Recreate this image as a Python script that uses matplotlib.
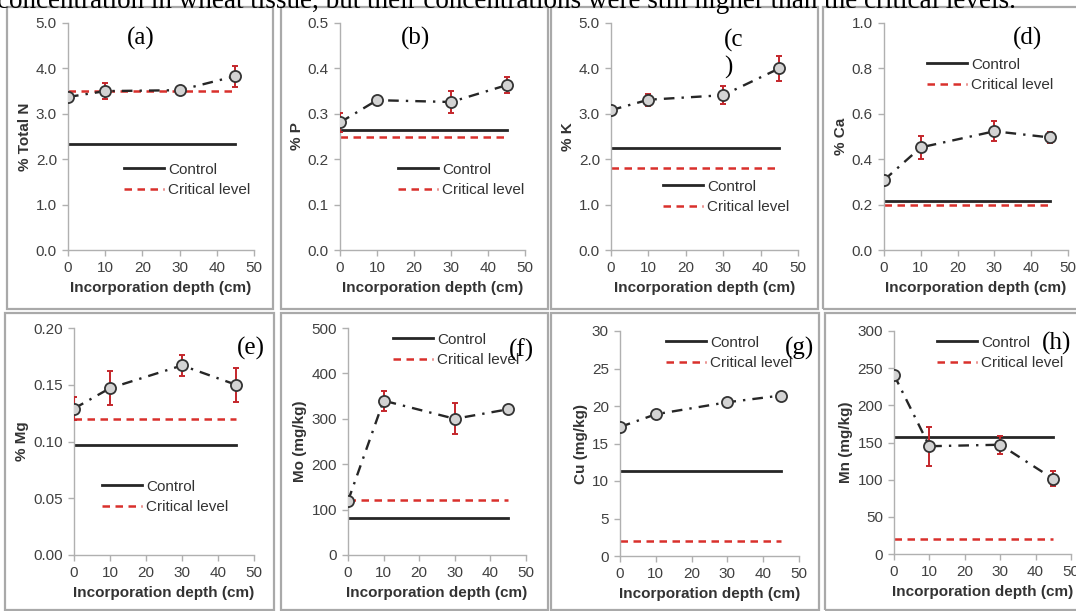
import numpy as np
import matplotlib
matplotlib.use('Agg')
import matplotlib.pyplot as plt
from matplotlib.patches import Rectangle

plt.rcParams['font.family'] = ['Liberation Sans', 'DejaVu Sans']

W, H = 1076, 611

depth = [0, 10, 30, 45]

# wartosci
n_val = [3.37, 3.50, 3.52, 3.83]
n_err = [0.10, 0.18, 0.05, 0.23]
p_val = [0.281, 0.330, 0.326, 0.363]
p_err = [0.020, 0.005, 0.025, 0.018]
k_val = [3.08, 3.31, 3.41, 4.00]
k_err = [0.05, 0.13, 0.20, 0.28]
ca_val = [0.308, 0.452, 0.523, 0.496]
ca_err = [0.015, 0.050, 0.044, 0.025]
mg_val = [0.129, 0.147, 0.167, 0.150]
mg_err = [0.010, 0.015, 0.009, 0.015]
mo_val = [119, 340, 300, 321]
mo_err = [0, 22, 34, 0]
cu_val = [17.2, 18.9, 20.5, 21.4]
cu_err = [0, 0, 0, 0]
mn_val = [241, 145, 147, 101]
mn_err = [0, 26, 12, 10]

control = [2.33, 0.264, 2.25, 0.216, 0.097, 81, 11.4, 157]
critical = [3.5, 0.25, 1.8, 0.2, 0.12, 121, 2, 20]

ylabels = ['% Total N', '% P', '% K', '% Ca', '% Mg', 'Mo (mg/kg)', 'Cu (mg/kg)', 'Mn (mg/kg)']
panel_tags = ['(a)', '(b)', '(c\n)', '(d)', '(e)', '(f)', '(g)', '(h)']
ymax = [5.0, 0.5, 5.0, 1.0, 0.20, 500, 30, 300]
ystep = [1.0, 0.1, 1.0, 0.2, 0.05, 100, 5, 50]
yfmt = ['%.1f', '%.1f', '%.1f', '%.1f', '%.2f', '%d', '%d', '%d']
xticks = [0, 10, 20, 30, 40, 50]

values = [n_val, p_val, k_val, ca_val, mg_val, mo_val, cu_val, mn_val]
errors = [n_err, p_err, k_err, ca_err, mg_err, mo_err, cu_err, mn_err]

# uklad w pikselach: lewo, prawo, gora, dol
axes_px = [(68, 254, 23, 250), (340, 525, 23, 250), (611, 798, 23, 250), (884, 1068, 23, 250),
           (74, 254, 328, 555), (348, 526, 328, 555), (620, 799, 331, 556), (894, 1071, 331, 554)]
boxes_px = [(7, 273, 7, 309), (281, 548, 7, 309), (551, 818, 7, 309), (823, 1085, 7, 309),
            (5, 274, 313, 610), (281, 548, 313, 610), (551, 819, 313, 610), (825, 1085, 313, 610)]
legend_px = [(124, 180), (398, 180), (663, 197), (927, 75),
             (102, 497), (393, 350), (666, 353), (937, 353)]
tag_px = [(141, 38), (415, 38), (724, 54), (1028, 38),
          (251, 348), (521, 350), (800, 348), (1057, 343)]

fig = plt.figure(figsize=(W / 100, H / 100), dpi=100)

for (x0, x1, y0, y1) in boxes_px:
    fig.patches.append(Rectangle((x0 / W, 1 - y1 / H), (x1 - x0) / W, (y1 - y0) / H,
                                 transform=fig.transFigure, fill=False,
                                 edgecolor='#a9a9a9', lw=1.6))

fig.text(-0.003, 1 - 8 / H, 'concentration in wheat tissue, but their concentrations were still higher than the critical levels.',
         family='Liberation Serif', fontsize=19.5, va='baseline', ha='left', color='black')

for i in range(8):
    l, r, t, b = axes_px[i]
    ax = fig.add_axes([l / W, 1 - b / H, (r - l) / W, (b - t) / H])
    ax.set_facecolor('none')
    ax.plot([0, 45], [control[i], control[i]], color='#262626', lw=2.0, label='Control', zorder=2)
    ax.plot([0, 45], [critical[i], critical[i]], color='#d9302c', lw=1.8, dashes=(3, 2.2),
            label='Critical level', zorder=2)
    ax.plot(depth, values[i], color='#262626', lw=1.7, dashes=(4.5, 3, 1, 3), zorder=3)
    ax.errorbar(depth, values[i], yerr=errors[i], fmt='none', ecolor='#c4262b',
                elinewidth=1.4, capsize=2.5, capthick=1.4, zorder=4)
    ax.plot(depth, values[i], 'o', ms=8, mfc='#d3d3d3', mec='#333333', mew=1.3, zorder=5)

    ax.set_xlim(0, 50)
    ax.set_ylim(0, ymax[i])
    ax.set_xticks(xticks)
    yt = np.arange(0, ymax[i] + ystep[i] / 2, ystep[i])
    ax.set_yticks(yt)
    ax.set_yticklabels([yfmt[i] % v for v in yt])
    for s in ['top', 'right']:
        ax.spines[s].set_visible(False)
    for s in ['left', 'bottom']:
        ax.spines[s].set_color('#b0b0b0')
        ax.spines[s].set_linewidth(1.0)
    ax.tick_params(direction='out', length=4, width=1.0, color='#b0b0b0',
                   labelsize=11, labelcolor='#404040', pad=4)
    ax.set_xlabel('Incorporation depth (cm)', fontsize=11, fontweight='bold',
                  color='#333333', labelpad=4)
    ax.set_ylabel(ylabels[i], fontsize=11, fontweight='bold', color='#333333', labelpad=3)

    lx, ly = legend_px[i]
    ax.legend(loc='center left', bbox_to_anchor=(lx / W, 1 - ly / H), bbox_transform=fig.transFigure,
              frameon=False, fontsize=11, handlelength=2.6, handletextpad=0.3,
              labelspacing=0.45, borderpad=0, borderaxespad=0, labelcolor='#333333')

    tx, ty = tag_px[i]
    fig.text(tx / W, 1 - ty / H, panel_tags[i], family='Liberation Serif', fontsize=18,
             ha='center' if i != 2 else 'left', va='center', linespacing=1.25)

fig.savefig('out.png', dpi=100)
